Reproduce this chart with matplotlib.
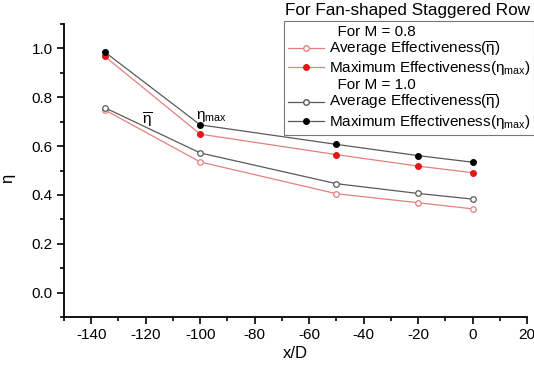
import matplotlib.pyplot as plt
from matplotlib.lines import Line2D
from matplotlib.ticker import MultipleLocator

plt.rcParams['font.family'] = ['Liberation Sans', 'DejaVu Sans']
plt.rcParams['mathtext.fontset'] = 'custom'
plt.rcParams['mathtext.rm'] = 'Liberation Sans'
plt.rcParams['mathtext.it'] = 'Liberation Sans'
plt.rcParams['axes.unicode_minus'] = False

# data
x_d = [-135, -100, -50, -20, 0]
avg_m08 = [0.748, 0.535, 0.405, 0.368, 0.343]
max_m08 = [0.967, 0.649, 0.565, 0.518, 0.491]
avg_m10 = [0.757, 0.572, 0.446, 0.406, 0.383]
max_m10 = [0.985, 0.687, 0.607, 0.561, 0.534]

red_line = '#e58080'
red_mark = '#e01818'
grey_line = '#5a5a5a'
ms = 4

fig = plt.figure(figsize=(5.34, 3.65), dpi=100)
ax = fig.add_axes([64 / 534, 1 - 317 / 365, 463 / 534, 293 / 365])

ax.plot(x_d, avg_m08, color=red_line, lw=0.9, marker='o', ms=ms,
        mfc='white', mec=red_line, mew=0.9)
ax.plot(x_d, max_m08, color=red_line, lw=0.9, marker='o', ms=ms,
        mfc=red_mark, mec=red_mark)
ax.plot(x_d, avg_m10, color=grey_line, lw=0.9, marker='o', ms=ms,
        mfc='white', mec=grey_line, mew=0.9)
ax.plot(x_d, max_m10, color=grey_line, lw=0.9, marker='o', ms=ms,
        mfc='black', mec='black')

ax.text(-119.5, 0.705, r'$\overline{\eta}$', fontsize=11, ha='center', va='center')
ax.text(-96, 0.722, r'$\eta_{max}$', fontsize=11, ha='center', va='center')

ax.set_xlim(-150, 20)
ax.set_ylim(-0.1, 1.1)
ax.xaxis.set_minor_locator(MultipleLocator(10))
ax.yaxis.set_minor_locator(MultipleLocator(0.1))
ax.set_xticks(range(-140, 21, 20))
ax.set_yticks([0.0, 0.2, 0.4, 0.6, 0.8, 1.0])
ax.yaxis.set_major_formatter(plt.FormatStrFormatter('%.1f'))
ax.tick_params(which='major', direction='out', length=5, width=1.2, labelsize=11, pad=3)
ax.tick_params(which='minor', direction='out', length=3, width=1.2)
for s in ['top', 'right']:
    ax.spines[s].set_visible(False)
for s in ['left', 'bottom']:
    ax.spines[s].set_linewidth(1.3)
ax.set_xlabel('x/D', fontsize=12, labelpad=3)
ax.set_ylabel(r'$\eta$', fontsize=12)
ax.yaxis.set_label_coords(-0.10, 0.47)

blank = Line2D([], [], linestyle='none', marker='none')
handles = [
    blank,
    Line2D([], [], color=red_line, lw=0.9, marker='o', ms=ms, mfc='white', mec=red_line),
    Line2D([], [], color=red_line, lw=0.9, marker='o', ms=ms, mfc=red_mark, mec=red_mark),
    blank,
    Line2D([], [], color=grey_line, lw=0.9, marker='o', ms=ms, mfc='white', mec=grey_line),
    Line2D([], [], color=grey_line, lw=0.9, marker='o', ms=ms, mfc='black', mec='black'),
]
labels = [
    '  For M = 0.8',
    r'Average Effectiveness($\overline{\eta}$)',
    r'Maximum Effectiveness($\eta_{max}$)',
    '  For M = 1.0',
    r'Average Effectiveness($\overline{\eta}$)',
    r'Maximum Effectiveness($\eta_{max}$)',
]
leg = fig.legend(handles, labels, loc='upper right', bbox_to_anchor=(534 / 534, 1 - 21 / 365),
                 fontsize=11, frameon=True, fancybox=False, edgecolor='#555555',
                 handlelength=2.4, handletextpad=0.3, labelspacing=0.05,
                 borderpad=0.25, borderaxespad=0)
leg.get_frame().set_linewidth(0.8)

fig.text(285 / 534, 1 - 11 / 365, 'For Fan-shaped Staggered Row', fontsize=12.3,
         ha='left', va='center')

fig.savefig('out.png', dpi=100)
